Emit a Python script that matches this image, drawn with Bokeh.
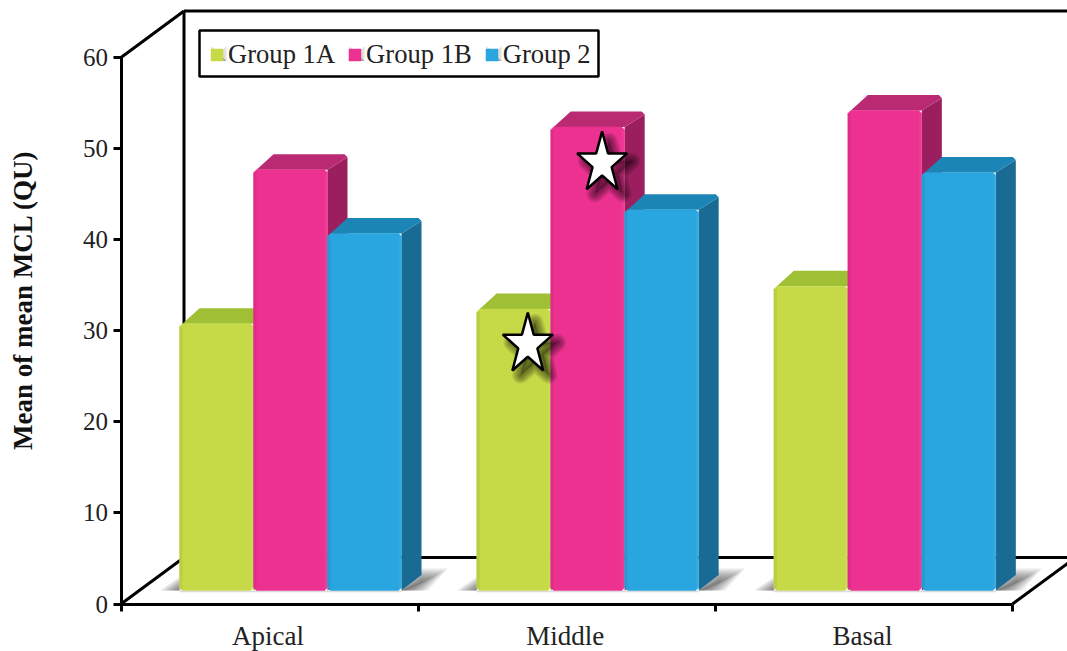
import math

from bokeh.core.properties import value
from bokeh.embed import file_html
from bokeh.models import FixedTicker, Legend, LegendItem, LinearAxis, Range1d
from bokeh.plotting import figure
from bokeh.resources import INLINE

# Chart values
regions = ["Apical", "Middle", "Basal"]
group_names = ["Group 1A", "Group 1B", "Group 2"]
group_1a = [29.3, 30.9, 33.4]
group_1b = [46.2, 50.9, 52.7]
group_2 = [39.2, 41.8, 45.9]
y_ticks = [0, 10, 20, 30, 40, 50, 60]

# Markers of significance: region index, offset inside the region, height
star_region = [1, 1]
star_offset = [0.369, 0.619]
star_height = [27.0, 46.9]

# Per-series face colours: front, top, side
front_colors = ["#c6da48", "#ec3190", "#29a5df"]
top_colors = ["#9fc034", "#b92a72", "#1b85b6"]
side_colors = ["#8fae2c", "#9b1f5f", "#1a6b94"]

W, H = 1067, 651
AX_L, AX_R, AX_B, AX_T = 120.5, 1012.0, 603.5, 57.0
PX_X = (AX_R - AX_L) / 3.0      # pixels per region
PX_Y = (AX_B - AX_T) / 60.0     # pixels per value unit


def dx(px):
    return px / PX_X


def dy(px):
    return px / PX_Y


def sx(px):
    return dx(px - AX_L)


def sy(px):
    return dy(AX_B - px)


p = figure(
    width=W, height=H, output_backend="svg", toolbar_location=None,
    x_range=Range1d(-AX_L / PX_X, (W - AX_L) / PX_X),
    y_range=Range1d(-(H - AX_B) / PX_Y, AX_B / PX_Y),
    min_border=0, outline_line_color=None, background_fill_color="white",
    border_fill_color="white",
)
p.grid.visible = False

# Value axis
yax = p.yaxis[0]
yax.fixed_location = 0
yax.ticker = FixedTicker(ticks=y_ticks)
yax.bounds = (0, 60)
yax.axis_line_width = 3
yax.axis_line_color = "black"
yax.major_tick_line_width = 3
yax.major_tick_line_color = "black"
yax.major_tick_in = 0
yax.major_tick_out = 8
yax.minor_tick_line_color = None
yax.major_label_standoff = 5
yax.major_label_text_font = "Liberation Serif"
yax.major_label_text_font_size = "25px"
yax.major_label_text_color = "#222222"

# Value axis title sits higher than the middle of the axis
p.text(
    [sx(22)], [sy(299.5)], text=["Mean of mean MCL (QU)"],
    angle=math.pi / 2, text_align="center", text_baseline="middle",
    text_font=value("Liberation Serif"), text_font_style="bold",
    text_font_size="27px", text_color="#111111",
)

# Region axis: tick marks at the region borders
xax = p.xaxis[0]
xax.fixed_location = 0
xax.ticker = FixedTicker(ticks=[0, 1, 2, 3])
xax.bounds = (0, 3)
xax.axis_line_width = 3
xax.axis_line_color = "black"
xax.major_tick_line_width = 3
xax.major_tick_line_color = "black"
xax.major_tick_in = 0
xax.major_tick_out = 7
xax.minor_tick_line_color = None
xax.major_label_text_font_size = "0px"
xax.major_label_text_color = None

# Region names centred under each region
names = LinearAxis(fixed_location=0)
names.ticker = FixedTicker(ticks=[i + 0.495 for i in range(3)])
names.major_label_overrides = {i + 0.495: r for i, r in enumerate(regions)}
names.axis_line_color = None
names.major_tick_line_color = None
names.minor_tick_line_color = None
names.major_tick_in = 0
names.major_tick_out = 0
names.major_label_standoff = 17
names.major_label_text_font = "Liberation Serif"
names.major_label_text_font_size = "27px"
names.major_label_text_color = "#222222"
p.add_layout(names, "below")

# Chart box in oblique projection: side walls and floor edges
DEPTH_X, DEPTH_Y = dx(63), dy(46.5)
frame_color = "black"
p.line([0, DEPTH_X], [60, 60 + DEPTH_Y], line_color=frame_color, line_width=3)
p.line([0, DEPTH_X], [0, DEPTH_Y], line_color=frame_color, line_width=3)
p.line([3, 3 + DEPTH_X], [0, DEPTH_Y], line_color=frame_color, line_width=3)
p.line([DEPTH_X, DEPTH_X], [DEPTH_Y, 60 + DEPTH_Y], line_color=frame_color, line_width=3)
p.line([DEPTH_X, 3 + DEPTH_X], [60 + DEPTH_Y, 60 + DEPTH_Y], line_color=frame_color, line_width=3)
p.line([DEPTH_X, 3 + DEPTH_X], [DEPTH_Y, DEPTH_Y], line_color=frame_color, line_width=3)

BAR_W = dx(74.0)
BAR_X0 = dx(58.5)
BASE = dy(13.5)
BAR_DX, BAR_DY = dx(20), dy(15.5)
CUT_X, CUT_Y = dx(3), dy(3)

# Soft floor shadows cast by each cluster
for i in range(3):
    x0 = i + BAR_X0
    x1 = x0 + 3 * BAR_W
    for k in range(14):
        grow = dx(2 + 1.9 * k)
        rise = dy(8 + 1.1 * k)
        p.patch(
            [x1, x1 + grow, x1 + BAR_DX + grow, x1 + BAR_DX],
            [BASE, BASE, BASE + rise, BASE + rise],
            fill_color="#222222", fill_alpha=0.06, line_color=None,
        )
    for k in range(10):
        grow_left = dx(2 + 2 * k)
        p.patch(
            [x0 - grow_left, x0, x0],
            [BASE, BASE, BASE + dy(2 + 1.3 * k)],
            fill_color="#222222", fill_alpha=0.07, line_color=None,
        )
    p.line([x0, x1], [BASE - dy(1), BASE - dy(1)],
           line_color="#888888", line_alpha=0.3, line_width=1.5)

# The bars themselves, one series at a time so the later ones overlap the earlier
front_renderers = []
for s, values in enumerate([group_1a, group_1b, group_2]):
    rends = []
    for i, v in enumerate(values):
        x0 = i + BAR_X0 + s * BAR_W
        x1 = x0 + BAR_W
        top = BASE + v
        p.patch(
            [x1, x1 + BAR_DX, x1 + BAR_DX, x1],
            [BASE, BASE + BAR_DY, top + BAR_DY - CUT_Y, top],
            fill_color=side_colors[s], line_color=None,
        )
        p.patch(
            [x0 + CUT_X, x0 + BAR_DX, x1 + BAR_DX - CUT_X, x1 + BAR_DX, x1],
            [top, top + BAR_DY, top + BAR_DY, top + BAR_DY - CUT_Y, top],
            fill_color=top_colors[s], line_color=None,
        )
        r = p.patch(
            [x0, x0, x0 + CUT_X, x1 - CUT_X, x1, x1, x1 - CUT_X, x0 + CUT_X],
            [BASE + CUT_Y, top - CUT_Y, top, top, top - CUT_Y, BASE + CUT_Y, BASE, BASE],
            fill_color=front_colors[s], line_color=front_colors[s], line_width=0.5,
        )
        rends.append(r)
        # Soft seam along both vertical edges of the front face
        p.patch([x0, x0 + dx(3), x0 + dx(3), x0],
                [BASE, BASE, top - CUT_Y, top - CUT_Y],
                fill_color="black", fill_alpha=0.06, line_color=None)
        p.patch([x1 - dx(3), x1, x1, x1 - dx(3)],
                [BASE, BASE, top - CUT_Y, top - CUT_Y],
                fill_color="white", fill_alpha=0.05, line_color=None)
    front_renderers.append(rends)


def star_outline(cx, cy, rx, ry):
    xs, ys = [], []
    for n in range(10):
        r = 1.0 if n % 2 == 0 else 0.382
        a = math.pi / 2 - n * math.pi / 5
        xs.append(cx + dx(rx * r * math.cos(a)))
        ys.append(cy + dy(ry * r * math.sin(a)))
    return xs, ys


# Significance stars with a blurred shadow to the lower right
star_x = [i + o for i, o in zip(star_region, star_offset)]
star_y = [BASE + h for h in star_height]
for cx, cy in zip(star_x, star_y):
    shx, shy = star_outline(cx + dx(7), cy - dy(7), 24, 29)
    for w in [17, 14, 11, 8, 5, 2]:
        p.patch(shx, shy, fill_color="black", fill_alpha=0.04, line_color="black",
                line_alpha=0.1, line_width=w, line_join="round")
    xs, ys = star_outline(cx, cy, 26.3, 32)
    p.patch(xs, ys, fill_color="white", line_color="black", line_width=2.5)

# Legend frame drawn on its own, with the legend's texts and keys set inside it
p.quad(left=[sx(199)], right=[sx(598)], top=[sy(30)], bottom=[sy(76)],
       fill_color="white", line_color="black", line_width=2.5)
legend = Legend(
    items=[LegendItem(label=n, renderers=[r[0]]) for n, r in zip(group_names, front_renderers)],
    orientation="horizontal", location=(209, H - 70),
    border_line_color=None, background_fill_color=None,
    padding=7, margin=0, spacing=12, label_standoff=4,
    glyph_width=15, glyph_height=15,
    label_text_font="Liberation Serif", label_text_font_size="26.6px",
    label_text_color="#222222", level="guide",
)
p.add_layout(legend, "center")

# Bevelled shading on the legend keys, over the plain key colour
KEY_LEFT = [211.0, 349.0, 486.0]
KEY_TOP, KEY_SIZE = 45.5, 15.0
for left in KEY_LEFT:
    xa, xb = sx(left), sx(left + KEY_SIZE)
    yt, yb = sy(KEY_TOP), sy(KEY_TOP + KEY_SIZE)
    xm, ym = (xa + xb) / 2, (yt + yb) / 2
    for tri_x, tri_y, col, alpha in [
        ([xa, xb, xm], [yb, yb, ym], "black", 0.35),
        ([xa, xa, xm], [yb, yt, ym], "black", 0.12),
        ([xb, xb, xm], [yb, yt, ym], "black", 0.12),
        ([xa, xb, xm], [yt, yt, ym], "white", 0.2),
    ]:
        p.patch(tri_x, tri_y, fill_color=col, fill_alpha=alpha, line_color=None, level="annotation")

open("out.html", "w").write(file_html(p, INLINE))
